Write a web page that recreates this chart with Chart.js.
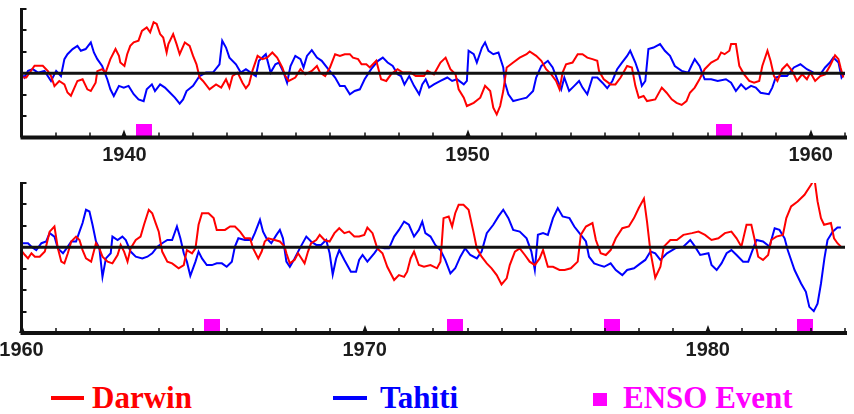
<!DOCTYPE html>
<html>
<head>
<meta charset="utf-8">
<script src="https://cdn.jsdelivr.net/npm/chart.js@4.4.1/dist/chart.umd.min.js"></script>
<style>
  body { margin: 0; background: #fff; width: 854px; height: 414px; overflow: hidden; position: relative; }
  canvas { position: absolute; left: 0; }
  .key { position: absolute; top: 382px; font: bold 31px "Liberation Serif", "Times New Roman", serif; line-height: 31px; white-space: nowrap; }
  .swatch { position: absolute; }
</style>
</head>
<body>
<canvas id="topChart" width="854" height="170" style="top:0"></canvas>
<canvas id="botChart" width="854" height="190" style="top:170px"></canvas>

<div class="swatch" style="left:51px;top:396px;width:33px;height:4px;background:#ff0000"></div>
<div class="key" style="left:92px;color:#ff0000">Darwin</div>
<div class="swatch" style="left:333px;top:396px;width:34px;height:4px;background:#0000ff"></div>
<div class="key" style="left:380px;color:#0000ff">Tahiti</div>
<div class="swatch" style="left:593px;top:393px;width:14px;height:13px;background:#ff00ff"></div>
<div class="key" style="left:623px;color:#ff00ff">ENSO Event</div>

<script>
// pressure anomalies (year, value)

// 1937 - 1961
const darwinTopYears = [1937.05,1937.14,1937.38,1937.62,1937.77,1937.86,1937.96,1938.10,1938.25,1938.34,1938.44,1938.63,1938.78,1938.92,1939.02,1939.16,1939.21,1939.35,1939.45,1939.59,1939.74,1939.84,1939.88,1940.00,1940.08,1940.17,1940.27,1940.41,1940.51,1940.65,1940.75,1940.85,1940.94,1941.04,1941.13,1941.23,1941.28,1941.42,1941.52,1941.61,1941.76,1941.90,1942.00,1942.10,1942.19,1942.29,1942.48,1942.67,1942.82,1942.96,1943.06,1943.15,1943.30,1943.44,1943.54,1943.63,1943.73,1943.88,1944.02,1944.16,1944.31,1944.45,1944.60,1944.69,1944.79,1944.98,1945.13,1945.27,1945.46,1945.61,1945.70,1945.85,1945.99,1946.14,1946.28,1946.42,1946.57,1946.66,1946.81,1946.91,1947.05,1947.15,1947.34,1947.48,1947.63,1947.77,1947.96,1948.11,1948.35,1948.49,1948.73,1948.83,1949.02,1949.21,1949.36,1949.50,1949.65,1949.74,1949.89,1949.98,1950.18,1950.37,1950.51,1950.66,1950.75,1950.85,1950.95,1951.04,1951.14,1951.33,1951.52,1951.72,1951.81,1952.00,1952.15,1952.29,1952.44,1952.58,1952.68,1952.77,1952.87,1953.06,1953.21,1953.35,1953.49,1953.64,1953.78,1953.83,1953.97,1954.17,1954.31,1954.46,1954.65,1954.79,1954.89,1954.99,1955.13,1955.23,1955.47,1955.66,1955.80,1955.95,1956.09,1956.24,1956.38,1956.48,1956.62,1956.76,1956.91,1957.10,1957.29,1957.39,1957.49,1957.63,1957.68,1957.82,1957.92,1958.06,1958.21,1958.35,1958.50,1958.59,1958.74,1958.83,1958.93,1959.03,1959.17,1959.31,1959.46,1959.60,1959.75,1959.89,1959.99,1960.13,1960.28,1960.42,1960.56,1960.71,1960.81,1960.87,1960.95];
const darwinTopVals = [-0.2,-0.2,0.35,0.35,0.1,-0.13,-0.6,-0.36,-0.52,-0.9,-1.05,-0.36,-0.28,-0.75,-0.83,-0.44,0.1,0.19,0.03,0.66,1.13,0.81,0.5,0.34,0.89,1.28,1.44,1.52,1.98,2.14,1.91,2.38,2.3,1.83,1.67,0.97,1.36,1.83,1.36,0.89,1.44,1.28,0.81,0.42,-0.2,-0.36,-0.75,-0.52,-0.67,-0.28,-0.67,-0.13,0.03,-0.44,-0.7,-0.52,0.11,0.81,0.66,0.73,0.97,0.73,0.27,-0.13,-0.36,-0.2,0.19,-0.05,0.11,0.34,0.03,-0.13,0.27,0.89,0.81,0.89,0.89,0.73,0.66,0.42,0.42,0.27,0.58,-0.28,-0.36,-0.05,0.19,0.03,0.03,-0.13,-0.13,0.11,-0.05,0.5,0.73,0.19,-0.05,-0.75,-1.14,-1.53,-1.38,-1.14,-0.59,-0.83,-1.61,-1.92,-1.53,-0.83,0.27,0.5,0.73,0.89,1.02,0.81,0.58,0.19,-0.05,-0.36,-0.75,0.03,0.42,0.5,0.89,0.89,0.73,0.66,0.58,0.11,-0.28,-0.52,-0.52,-0.2,0.34,0.27,-0.59,-1.14,-1.06,-1.3,-1.22,-0.67,-0.91,-1.22,-1.38,-1.48,-1.3,-0.91,-0.67,-0.28,0.19,0.5,0.66,0.97,0.89,1.05,1.36,1.36,0.34,-0.05,-0.36,-0.44,-0.36,0.34,1.05,0.58,-0.13,-0.36,0.19,0.42,0.11,-0.36,-0.05,-0.28,0.03,-0.36,-0.13,-0.05,0.34,0.84,0.66,0.27,-0.2];

const tahitiTopYears = [1937.05,1937.09,1937.19,1937.33,1937.48,1937.67,1937.86,1938.01,1938.15,1938.25,1938.34,1938.49,1938.63,1938.73,1938.87,1939.02,1939.11,1939.21,1939.35,1939.50,1939.59,1939.69,1939.84,1939.98,1940.12,1940.27,1940.41,1940.56,1940.65,1940.80,1940.89,1941.04,1941.18,1941.33,1941.47,1941.61,1941.71,1941.81,1942.00,1942.19,1942.38,1942.58,1942.77,1942.85,1942.96,1943.06,1943.25,1943.39,1943.54,1943.68,1943.83,1943.92,1944.12,1944.26,1944.40,1944.50,1944.64,1944.74,1944.84,1944.98,1945.13,1945.22,1945.32,1945.46,1945.61,1945.75,1945.94,1946.14,1946.28,1946.42,1946.57,1946.71,1946.86,1947.00,1947.19,1947.39,1947.53,1947.67,1947.82,1947.96,1948.06,1948.16,1948.30,1948.44,1948.59,1948.68,1948.78,1948.88,1949.02,1949.21,1949.41,1949.55,1949.69,1949.89,1949.98,1950.03,1950.18,1950.27,1950.42,1950.51,1950.61,1950.75,1950.90,1951.04,1951.09,1951.19,1951.33,1951.52,1951.72,1951.91,1952.00,1952.15,1952.34,1952.48,1952.63,1952.73,1952.82,1952.96,1953.11,1953.25,1953.35,1953.49,1953.64,1953.78,1953.93,1954.07,1954.22,1954.36,1954.50,1954.65,1954.74,1954.89,1954.99,1955.08,1955.18,1955.27,1955.42,1955.61,1955.75,1955.90,1956.04,1956.24,1956.43,1956.52,1956.62,1956.76,1956.91,1957.10,1957.29,1957.53,1957.68,1957.82,1957.97,1958.11,1958.26,1958.40,1958.54,1958.78,1958.88,1958.98,1959.12,1959.31,1959.51,1959.70,1959.89,1960.08,1960.28,1960.42,1960.56,1960.66,1960.81,1960.90,1961.00];
const tahitiTopVals = [-0.1,-0.2,0.11,0.19,0.03,0.11,-0.36,0.11,-0.13,0.66,0.89,1.13,1.28,1.05,1.13,1.44,0.97,0.66,0.34,-0.28,-0.75,-1.06,-0.59,-0.67,-0.59,-0.98,-1.22,-1.3,-0.75,-0.52,-0.83,-0.52,-0.67,-0.91,-1.14,-1.42,-1.22,-0.83,-0.59,-0.13,0.03,0.03,0.42,1.52,1.2,0.73,0.42,0.03,0.19,0.03,-0.13,0.58,0.89,0.03,0.42,0.5,0.03,-0.44,0.34,0.81,0.66,0.27,0.81,1.08,0.73,0.58,0.19,-0.2,-0.59,-0.59,-0.98,-0.83,-0.75,-0.28,0.19,0.58,0.73,0.5,0.34,-0.05,-0.13,-0.52,-0.13,-0.59,-0.98,-0.52,-0.28,-0.67,-0.52,-0.36,-0.2,-0.36,-0.28,-0.52,-0.36,1.05,0.89,0.5,1.2,1.44,1.05,0.89,0.97,0.27,-0.44,-0.98,-1.3,-1.22,-1.14,-0.83,-0.2,0.34,0.58,0.27,-0.36,-0.75,-0.2,-0.83,-0.59,-0.36,-0.67,-0.98,-0.2,-0.2,-0.44,-0.7,-0.36,0.19,0.5,0.81,1.05,0.5,0.03,-0.59,-0.36,1.13,1.2,1.36,1.05,0.81,0.34,0.11,0.03,0.34,0.66,0.34,-0.28,-0.28,-0.36,-0.28,-0.44,-0.83,-0.52,-0.75,-0.59,-0.67,-0.91,-0.98,-0.67,-0.2,-0.13,-0.13,0.27,0.42,0.19,0.03,-0.05,0.27,0.5,0.73,0.5,-0.2,0.03];

const ensoTopYears = [1940.58, 1957.47];

// 1960 - 1984
const darwinBotYears = [1960.02,1960.10,1960.19,1960.29,1960.39,1960.53,1960.68,1960.82,1960.96,1961.06,1961.16,1961.25,1961.35,1961.45,1961.59,1961.69,1961.78,1961.88,1962.03,1962.17,1962.27,1962.36,1962.51,1962.65,1962.80,1962.89,1962.99,1963.09,1963.18,1963.33,1963.47,1963.57,1963.71,1963.81,1963.91,1964.00,1964.10,1964.25,1964.39,1964.58,1964.73,1964.82,1964.97,1965.07,1965.16,1965.26,1965.45,1965.60,1965.69,1965.93,1966.08,1966.22,1966.37,1966.51,1966.66,1966.75,1966.90,1967.00,1967.09,1967.19,1967.38,1967.53,1967.67,1967.72,1967.82,1967.96,1968.06,1968.16,1968.25,1968.35,1968.44,1968.59,1968.69,1968.83,1968.98,1969.12,1969.26,1969.41,1969.55,1969.70,1969.84,1969.99,1970.08,1970.23,1970.37,1970.52,1970.66,1970.86,1971.00,1971.15,1971.24,1971.34,1971.44,1971.58,1971.73,1971.92,1972.11,1972.21,1972.30,1972.45,1972.55,1972.64,1972.74,1972.88,1973.03,1973.17,1973.27,1973.41,1973.56,1973.70,1973.85,1973.99,1974.14,1974.23,1974.38,1974.52,1974.67,1974.81,1974.96,1975.10,1975.20,1975.34,1975.49,1975.68,1975.83,1976.01,1976.21,1976.30,1976.45,1976.64,1976.74,1976.88,1977.03,1977.17,1977.32,1977.51,1977.70,1977.85,1977.99,1978.14,1978.23,1978.33,1978.47,1978.62,1978.72,1978.91,1979.10,1979.29,1979.54,1979.73,1979.92,1980.11,1980.31,1980.50,1980.69,1980.84,1980.98,1981.13,1981.27,1981.37,1981.47,1981.61,1981.76,1981.85,1982.00,1982.19,1982.29,1982.43,1982.62,1982.82,1983.01,1983.11,1983.20,1983.30,1983.39,1983.59,1983.68,1983.78,1983.88];
const darwinBotVals = [-0.2,-0.36,-0.52,-0.28,-0.44,-0.44,-0.2,0.73,0.97,-0.05,-0.67,-0.75,-0.28,0.27,0.5,0.34,-0.13,-0.52,-0.67,0.19,-0.05,-0.44,-0.67,-0.75,-0.36,0.11,-0.2,-0.67,-0.05,0.34,0.5,1.05,1.75,1.59,1.13,0.73,-0.2,-0.67,-0.75,-0.98,-0.83,-0.13,-0.28,-0.05,1.05,1.59,1.59,1.36,0.81,0.81,0.97,0.97,0.73,0.42,0.42,-0.05,-0.52,-0.2,0.27,0.42,0.34,0.27,0.03,-0.28,-0.75,-0.59,-0.28,-0.52,-0.75,-0.2,0.19,0.34,0.58,0.34,0.27,0.66,0.89,0.66,0.73,0.5,0.5,0.58,0.92,0.66,-0.05,-0.28,-0.91,-1.53,-1.3,-1.38,-1.14,-0.52,-0.2,-0.83,-0.91,-0.83,-0.98,-0.67,1.36,1.44,0.97,1.59,1.98,1.98,1.75,0.73,-0.05,-0.44,-0.75,-0.98,-1.3,-1.73,-1.45,-0.83,-0.2,-0.05,-0.36,-0.67,-0.83,-0.52,-0.13,-0.91,-0.91,-1.06,-1.06,-0.98,-0.67,0.58,0.97,1.13,0.34,-0.28,-0.36,-0.13,0.42,0.89,0.97,1.36,1.83,2.27,1.2,-0.2,-1.42,-0.91,0.03,0.34,0.34,0.58,0.66,0.73,0.58,0.34,0.42,0.66,0.73,0.42,0.03,1.05,1.05,0.34,-0.44,-0.59,-0.36,0.34,0.5,0.58,1.36,1.91,2.14,2.45,2.92,3.2,2.14,1.36,1.05,1.13,0.42,0.19,0.03];

const tahitiBotYears = [1960.02,1960.05,1960.19,1960.29,1960.43,1960.58,1960.72,1960.82,1960.96,1961.06,1961.21,1961.35,1961.45,1961.59,1961.69,1961.78,1961.88,1961.98,1962.07,1962.17,1962.27,1962.36,1962.46,1962.60,1962.65,1962.80,1962.94,1963.04,1963.18,1963.33,1963.52,1963.67,1963.81,1963.96,1964.10,1964.25,1964.39,1964.53,1964.63,1964.73,1964.82,1964.92,1965.07,1965.16,1965.26,1965.40,1965.55,1965.69,1965.84,1965.98,1966.13,1966.22,1966.32,1966.51,1966.71,1966.80,1966.95,1967.04,1967.14,1967.28,1967.43,1967.53,1967.62,1967.72,1967.82,1967.96,1968.11,1968.30,1968.44,1968.59,1968.73,1968.88,1968.98,1969.07,1969.17,1969.26,1969.41,1969.60,1969.75,1969.84,1969.94,1970.08,1970.28,1970.42,1970.57,1970.71,1970.86,1971.00,1971.15,1971.29,1971.44,1971.58,1971.68,1971.77,1971.92,1972.06,1972.21,1972.35,1972.50,1972.64,1972.79,1972.93,1973.08,1973.27,1973.41,1973.56,1973.75,1973.90,1974.04,1974.19,1974.33,1974.52,1974.72,1974.86,1974.96,1975.05,1975.20,1975.34,1975.49,1975.63,1975.77,1975.97,1976.11,1976.26,1976.45,1976.54,1976.69,1976.83,1976.98,1977.17,1977.32,1977.51,1977.65,1977.85,1978.04,1978.18,1978.33,1978.47,1978.62,1978.81,1979.05,1979.29,1979.49,1979.63,1979.78,1980.02,1980.11,1980.26,1980.40,1980.55,1980.69,1980.84,1981.03,1981.18,1981.27,1981.42,1981.61,1981.80,1981.95,1982.09,1982.24,1982.33,1982.53,1982.72,1982.86,1982.96,1983.09,1983.20,1983.30,1983.40,1983.49,1983.64,1983.78,1983.88];
const tahitiBotVals = [0.19,0.19,0.19,0.03,-0.13,0.19,0.27,0.66,0.5,-0.05,-0.28,0.03,0.27,0.27,0.73,1.13,1.75,1.67,1.05,0.27,-0.05,-1.38,-0.52,-0.28,0.5,0.34,0.5,0.34,-0.2,-0.44,-0.52,-0.44,-0.28,0.03,0.19,0.34,0.34,0.97,0.42,-0.28,-0.67,-1.33,-0.67,-0.2,-0.52,-0.83,-0.83,-0.75,-0.75,-0.91,-0.67,0.03,0.42,0.34,0.34,0.66,1.28,0.73,0.42,0.19,0.58,0.81,0.42,-0.67,-0.91,-0.52,-0.05,0.5,0.27,0.11,0.11,0.34,-0.28,-1.27,-0.52,-0.13,-0.59,-1.14,-1.14,-0.59,-0.36,-0.67,-0.28,0.03,-0.05,-0.05,0.5,0.81,1.2,1.05,0.5,0.81,1.2,0.66,0.5,0.11,-0.13,-0.59,-1.22,-0.98,-0.44,-0.05,-0.36,-0.52,-0.2,0.66,1.05,1.44,1.75,1.36,0.81,0.73,0.42,-0.2,-1.06,0.58,0.66,0.58,1.36,1.83,1.44,1.36,0.97,0.66,0.27,-0.44,-0.75,-0.83,-0.91,-0.75,-1.06,-1.3,-1.06,-0.98,-0.75,-0.59,-0.2,-0.28,-0.59,-0.28,-0.05,0.03,0.34,0.03,-0.36,-0.28,-0.83,-1.06,-0.75,-0.28,-0.13,-0.36,-0.67,-0.67,-0.28,0.34,0.27,0.03,0.89,0.81,0.42,-0.13,-1.06,-1.69,-2.08,-2.78,-2.98,-2.63,-1.69,-0.52,0.34,0.73,0.92,0.92];

const ensoBotYears = [1965.54, 1972.64, 1977.22, 1982.84];

const toPts = (xs, ys) => xs.map((x, i) => ({ x, y: ys[i] }));

// little magenta block used for the ENSO markers
const ensoMark = document.createElement('canvas');
ensoMark.width = 16;
ensoMark.height = 12;
const mctx = ensoMark.getContext('2d');
mctx.fillStyle = '#ff00ff';
mctx.fillRect(0, 0, 16, 12);

// old-style axes: thick border, inward ticks, decade labels
const oldAxes = {
  id: 'oldAxes',
  afterDatasetsDraw(chart, args, opts) {
    const ctx = chart.ctx;
    const xs = chart.scales.x, ys = chart.scales.y;
    const { left, right, top, bottom } = chart.chartArea;
    ctx.save();
    ctx.strokeStyle = '#111';
    ctx.fillStyle = '#111';

    // zero line
    const y0 = ys.getPixelForValue(0);
    ctx.lineWidth = 3;
    ctx.beginPath(); ctx.moveTo(left, y0); ctx.lineTo(right, y0); ctx.stroke();

    // y axis + ticks
    ctx.lineWidth = 3;
    ctx.beginPath(); ctx.moveTo(left, top - 1); ctx.lineTo(left, bottom); ctx.stroke();
    ctx.lineWidth = 2;
    for (let v = ys.min; v <= ys.max; v++) {
      const py = Math.round(ys.getPixelForValue(v));
      ctx.beginPath(); ctx.moveTo(left, py); ctx.lineTo(left + 5, py); ctx.stroke();
    }

    // x axis
    ctx.lineWidth = 4;
    ctx.beginPath(); ctx.moveTo(left - 1, bottom); ctx.lineTo(right + 2, bottom); ctx.stroke();
    ctx.lineWidth = 1.5;
    for (let yr = Math.ceil(xs.min); yr <= xs.max; yr++) {
      const px = Math.round(xs.getPixelForValue(yr));
      if (yr % 10 === 0) {
        ctx.beginPath();
        ctx.moveTo(px - 3, bottom); ctx.lineTo(px, bottom - 8); ctx.lineTo(px + 3, bottom);
        ctx.closePath(); ctx.fill();
      } else {
        ctx.beginPath(); ctx.moveTo(px, bottom); ctx.lineTo(px, bottom - 5); ctx.stroke();
      }
    }

    // decade labels
    ctx.font = 'bold 20px "Liberation Sans", Arial, sans-serif';
    ctx.textAlign = 'center';
    ctx.textBaseline = 'middle';
    ctx.fillStyle = '#1c1c1c';
    for (let yr = Math.ceil(xs.min / 10) * 10; yr <= xs.max; yr += 10) {
      ctx.fillText(String(yr), xs.getPixelForValue(yr), bottom + opts.labelGap);
    }
    ctx.restore();
  }
};

function panel(id, xMin, xMax, yMin, yMax, padTop, padBottom, darwin, tahiti, enso, ensoLevel) {
  return new Chart(document.getElementById(id), {
    type: 'line',
    data: {
      datasets: [
        { label: 'Darwin', data: darwin, borderColor: '#ff0000', borderWidth: 2, pointRadius: 0, tension: 0 },
        { label: 'Tahiti', data: tahiti, borderColor: '#0000ff', borderWidth: 2, pointRadius: 0, tension: 0 },
        { type: 'scatter', label: 'ENSO Event', data: enso.map(x => ({ x, y: ensoLevel })),
          pointStyle: ensoMark, pointRadius: 8, showLine: false }
      ]
    },
    options: {
      responsive: false,
      animation: false,
      devicePixelRatio: 1,
      events: [],
      layout: { padding: { left: 21.5, right: 4, top: padTop, bottom: padBottom } },
      scales: {
        x: { type: 'linear', min: xMin, max: xMax, display: false },
        y: { min: yMin, max: yMax, display: false }
      },
      plugins: {
        legend: { display: false },
        tooltip: { enabled: false },
        oldAxes: { labelGap: 17.5 }
      }
    },
    plugins: [oldAxes]
  });
}

panel('topChart', 1937, 1961, -3, 3, 8, 32.5,
  toPts(darwinTopYears, darwinTopVals), toPts(tahitiTopYears, tahitiTopVals), ensoTopYears, -2.63);
panel('botChart', 1960, 1984, -4, 3, 13, 27,
  toPts(darwinBotYears, darwinBotVals), toPts(tahitiBotYears, tahitiBotVals), ensoBotYears, -3.63);
</script>
</body>
</html>
